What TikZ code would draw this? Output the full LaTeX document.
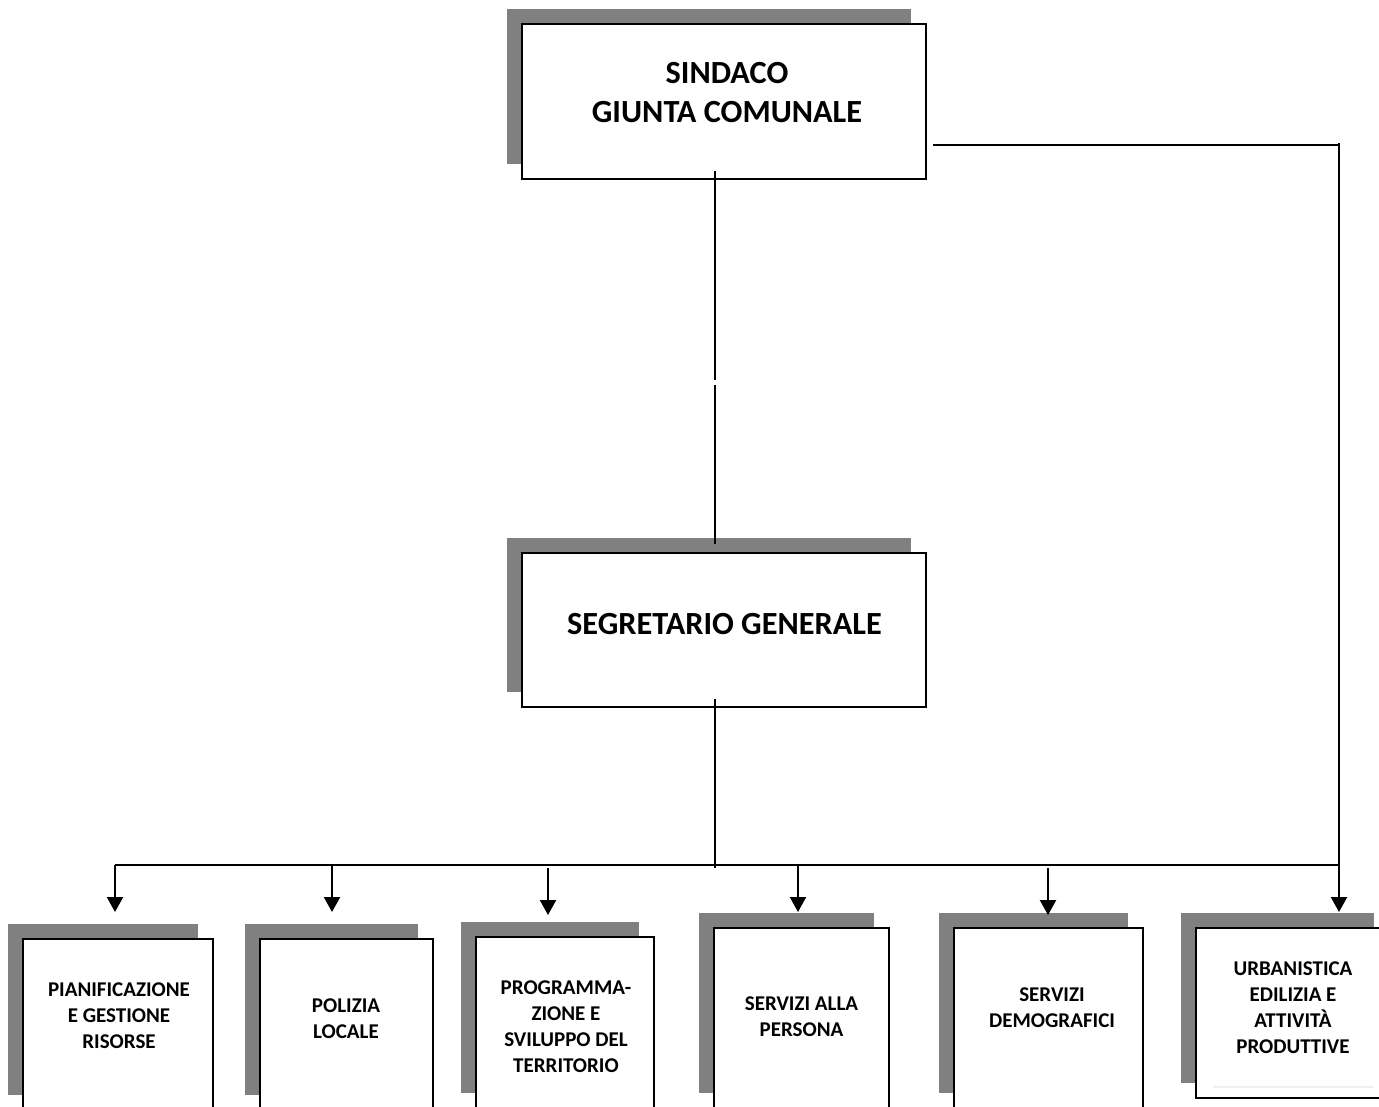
\documentclass[tikz,border=0pt]{standalone}
\usepackage{fontspec}
\setmainfont{Carlito}
\usetikzlibrary{arrows.meta,shadows,calc}

\tikzset{
	office/.style={draw=black, line width=1.8pt, fill=white, inner sep=0pt,
		general shadow={fill=black!50, shadow xshift=-15pt, shadow yshift=15pt}},
	headtext/.style={align=center, font=\fontsize{32.3}{39}\selectfont\bfseries},
	unittext/.style={align=center, font=\fontsize{21}{26}\selectfont\bfseries},
	wire/.style={line width=1.7pt},
	feed/.style={line width=2.2pt, -{Triangle[width=16pt,length=15pt]}}
}

\begin{document}
\begin{tikzpicture}[x=1pt, y=-1pt]
			%%%%% START %%%%%
			\useasboundingbox (0, 0) rectangle (1379, 1106);
			\clip (0, 0) rectangle (1379, 1106);
			
			% vertici
			\node[office, minimum width=404pt, minimum height=155pt] (sindaco) at (724, 101.5) {};
			\node[headtext] (sindacotxt) at (727, 92.5) {SINDACO\\GIUNTA COMUNALE};
			
			\node[office, minimum width=404pt, minimum height=154pt] (segretario) at (724, 630) {};
			\node[headtext] (segretariotxt) at (724.5, 624) {SEGRETARIO GENERALE};
			
			% settori
			\node[office, minimum width=190pt, minimum height=171pt] (risorse) at (118, 1024.5) {};
			\node[office, minimum width=173pt, minimum height=171pt] (polizia) at (346.5, 1024.5) {};
			\node[office, minimum width=178pt, minimum height=171pt] (territorio) at (565, 1022.5) {};
			\node[office, minimum width=175pt, minimum height=180pt] (persona) at (801.5, 1018) {};
			\node[office, minimum width=189pt, minimum height=180pt] (demografici) at (1048.5, 1018) {};
			\node[office, minimum width=193pt, minimum height=170pt] (urbanistica) at (1292.5, 1013) {};
			
			\node[unittext] (risorsetxt) at (119, 1016) {PIANIFICAZIONE\\E GESTIONE\\RISORSE};
			\node[unittext] (poliziatxt) at (346, 1019) {POLIZIA\\LOCALE};
			\node[unittext] (territoriotxt) at (566, 1027) {PROGRAMMA-\\ZIONE E\\SVILUPPO DEL\\TERRITORIO};
			\node[unittext] (personatxt) at (801.5, 1017) {SERVIZI ALLA\\PERSONA};
			\node[unittext] (demograficitxt) at (1052, 1008) {SERVIZI\\DEMOGRAFICI};
			\node[unittext] (urbanisticatxt) at (1293, 1008) {URBANISTICA\\EDILIZIA E\\ATTIVITÀ\\PRODUTTIVE};
			
			\draw[line width=2pt, color=black!6] (1213, 1087) -- (1373, 1087);
			
			% collegamenti
			\coordinate (trunk) at (715, 865);
			\coordinate (corner) at (1339, 145);
			\coordinate (a1) at (115, 912);
			\coordinate (a2) at (332, 912);
			\coordinate (a3) at (548, 915);
			\coordinate (a4) at (798, 912);
			\coordinate (a5) at (1048, 915);
			\coordinate (a6) at (1339, 912);
			
			\draw[wire] ($(sindaco.south -| trunk)+(0, -9)$) -- ($(trunk |- 0, 380)$);
			\draw[wire] ($(trunk |- 0, 385)$) -- ($(segretario.north -| trunk)+(0, -8)$);
			\draw[wire] ($(segretario.south -| trunk)+(0, -9)$) -- ($(trunk)+(0, 3)$);
			
			\draw[wire] (a1 |- trunk) -- (corner |- trunk);
			\draw[wire] ($(sindaco.east |- corner)+(6, 0)$) -- (corner);
			
			\draw[feed] ($(corner)+(0, -2)$) -- (a6);
			\draw[feed] (a1 |- trunk) -- (a1);
			\draw[feed] (a2 |- trunk) -- (a2);
			\draw[feed] ($(a3 |- trunk)+(0, 3)$) -- (a3);
			\draw[feed] (a4 |- trunk) -- (a4);
			\draw[feed] ($(a5 |- trunk)+(0, 3)$) -- (a5);
			
			%%%%% END %%%%%
\end{tikzpicture}
\end{document}
